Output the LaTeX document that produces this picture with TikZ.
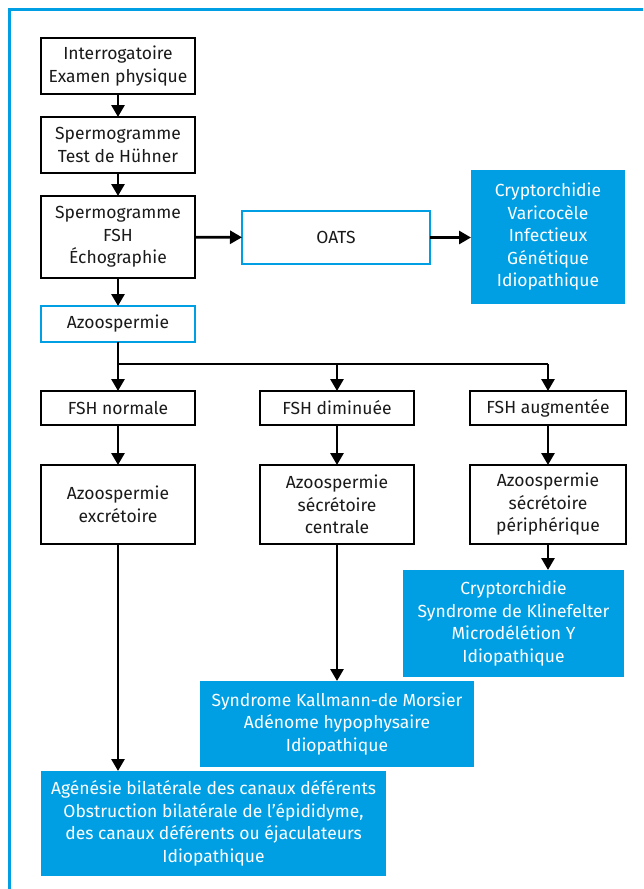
\documentclass[tikz,border=0pt]{standalone}
\usepackage{fontspec}
\setmainfont{Fira Sans}
\usetikzlibrary{arrows.meta}
\definecolor{cblue}{RGB}{0,159,227}
\definecolor{ctext}{RGB}{26,26,26}
\begin{document}
\begin{tikzpicture}[x=1pt,y=-1pt,
  every node/.style={inner sep=0pt, outer sep=0pt, align=center, font=\fontsize{17.5}{22.5}\selectfont, text=ctext},
  wbox/.style={draw=black, line width=1.5pt, fill=white, rectangle},
  bbox/.style={draw=cblue, line width=2.8pt, fill=white, rectangle},
  fbox/.style={fill=cblue, rectangle, text=white},
  arr/.style={line width=2.8pt, -{Triangle[length=12pt,width=13pt]}},
  ln/.style={line width=2.8pt}]
\useasboundingbox (0,0) rectangle (643,889);
\draw[cblue, line width=2.7pt] (9.7,889) -- (9.7,9.7) -- (643,9.7);

\node[wbox, minimum width=154pt, minimum height=56pt] (b1) at (118,66) {Interrogatoire\\Examen physique};
\node[wbox, minimum width=154pt, minimum height=56pt] (b2) at (118,145) {Spermogramme\\Test de Hühner};
\node[wbox, minimum width=154pt, minimum height=82pt] (b3) at (118,237) {Spermogramme\\FSH\\Échographie};
\node[bbox, minimum width=154pt, minimum height=36pt] (az) at (118,324) {Azoospermie};
\node[bbox, minimum width=188pt, minimum height=53pt] (oats) at (336,237.5) {OATS};
\node[fbox, minimum width=154pt, minimum height=134pt] (c1) at (548,237) {Cryptorchidie\\Varicocèle\\Infectieux\\Génétique\\Idiopathique};

\node[wbox, minimum width=154pt, minimum height=34pt] (fn) at (118,408) {FSH normale};
\node[wbox, minimum width=154pt, minimum height=34pt] (fd) at (337,408) {FSH diminuée};
\node[wbox, minimum width=156pt, minimum height=34pt] (fa) at (548,408) {FSH augmentée};

\node[wbox, minimum width=154pt, minimum height=79pt] (an) at (118,504.5) {Azoospermie\\excrétoire};
\node[wbox, minimum width=154pt, minimum height=79pt] (ad) at (337,504.5) {Azoospermie\\sécrétoire\\centrale};
\node[wbox, minimum width=156pt, minimum height=79pt] (aa) at (548,504.5) {Azoospermie\\sécrétoire\\périphérique};

\node[fbox, minimum width=221pt, minimum height=107pt] (ca) at (513.5,623.5) {Cryptorchidie\\Syndrome de Klinefelter\\Microdélétion Y\\Idiopathique};
\node[fbox, minimum width=274pt, minimum height=86pt] (cd) at (337,724) {Syndrome Kallmann-de Morsier\\Adénome hypophysaire\\Idiopathique};
\node[fbox, minimum width=345pt, minimum height=105pt] (cn) at (213.5,823.5) {Agénésie bilatérale des canaux déférents\\Obstruction bilatérale de l’épididyme,\\des canaux déférents ou éjaculateurs\\Idiopathique};

\draw[arr] (b1) -- (b2);
\draw[arr] (b2) -- (b3);
\draw[arr] (b3) -- (az);
\draw[arr] (b3) -- (oats);
\draw[arr] (oats.east) -- (c1.west |- oats.east);

\coordinate (hl) at (118,364);
\coordinate (hr) at (548,364);
\draw[ln] (az.south) -- (hl) -- (hr);
\draw[arr] (hl) -- (fn);
\draw[arr] (fd.north |- hl) -- (fd);
\draw[arr] (hr) -- (fa);

\draw[arr] (fn) -- (an);
\draw[arr] (fd) -- (ad);
\draw[arr] (fa) -- (aa);

\draw[arr] (aa.south) -- (aa.south |- ca.north);
\draw[arr] (ad.south) -- (ad.south |- cd.north);
\draw[arr] (an.south) -- (an.south |- cn.north);
\end{tikzpicture}
\end{document}
